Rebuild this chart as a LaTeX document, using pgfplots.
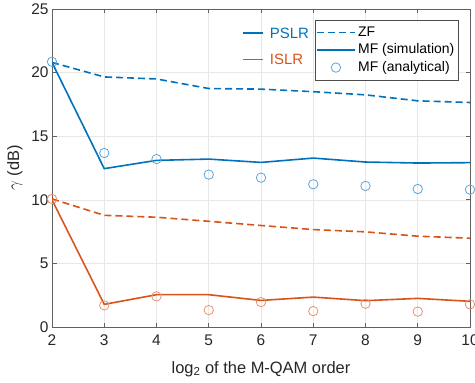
\documentclass[border=0pt]{standalone}
\usepackage{pgfplots}
\pgfplotsset{compat=1.18}
\usepackage{fontspec}
\setmainfont{Liberation Sans}
\definecolor{mblue}{RGB}{0,114,189}
\definecolor{morange}{RGB}{217,83,25}
\definecolor{cblue}{RGB}{90,165,220}
\definecolor{corange}{RGB}{232,145,110}
\pgfplotsset{
  lineleg/.style={legend image code/.code={\draw[line width=1.6bp, ##1] (0bp,0bp) -- (38bp,0bp);}},
  markleg/.style={legend image code/.code={\draw[##1] plot coordinates {(19bp,0bp)};}},
}
\begin{document}
\begin{tikzpicture}
\begin{axis}[
  name=ax,
  scale only axis, width=418bp, height=318bp,
  xmin=2, xmax=10, ymin=0, ymax=25,
  xtick={2,3,...,10}, ytick={0,5,...,25},
  grid=major, major grid style={color=black!9, line width=0.6bp},
  axis line style={color=black!62, line width=0.7bp},
  tick style={color=black!62, line width=0.7bp},
  tick align=inside, major tick length=4.5bp,
  ticklabel style={font=\fontsize{15.5}{17}\selectfont, text=black!85},
  xticklabel style={yshift=-4bp},
  /pgf/number format/assume math mode=true,
  xlabel={log\textsubscript{2} of the M-QAM order},
  ylabel={$\gamma$ (dB)},
  label style={font=\fontsize{16.5}{18}\selectfont, text=black!85},
  xlabel style={yshift=-9bp},
  ylabel style={yshift=2bp},
  legend style={at={(rel axis cs:0.629,0.965)}, anchor=north west,
    draw=black!70, fill=white,
    inner xsep=1bp, inner ysep=3.5bp, row sep=0bp,
    nodes={inner sep=2.5bp, text height=10bp, text depth=2.5bp, font=\fontsize{14}{15}\selectfont}},
  legend cell align=left,
  lineleg,
]
% PSLR
\addplot[mblue, line width=1.6bp, dash pattern=on 7bp off 4bp] coordinates {
 (2,20.8) (3,19.66) (4,19.5) (5,18.75) (6,18.7) (7,18.5) (8,18.25) (9,17.78) (10,17.65)};
\addlegendentry{ZF}
\addplot[mblue, line width=1.6bp] coordinates {
 (2,20.8) (3,12.45) (4,13.1) (5,13.2) (6,12.94) (7,13.28) (8,12.97) (9,12.89) (10,12.92)};
\addlegendentry{MF (simulation)\hspace{9bp}}
\addplot[cblue, only marks, mark=o, mark size=4.7bp, line width=0.8bp, markleg] coordinates {
 (2,20.85) (3,13.68) (4,13.2) (5,11.98) (6,11.74) (7,11.22) (8,11.09) (9,10.85) (10,10.8)};
\addlegendentry{MF (analytical)}
% ISLR
\addplot[morange, line width=1.6bp, dash pattern=on 7bp off 4bp, forget plot] coordinates {
 (2,10.07) (3,8.78) (4,8.63) (5,8.31) (6,7.98) (7,7.66) (8,7.48) (9,7.14) (10,6.98)};
\addplot[morange, line width=1.6bp, forget plot] coordinates {
 (2,10.0) (3,1.78) (4,2.54) (5,2.54) (6,2.09) (7,2.35) (8,2.07) (9,2.25) (10,2.02)};
\addplot[corange, only marks, mark=o, mark size=4.7bp, line width=0.8bp, forget plot] coordinates {
 (2,10.07) (3,1.7) (4,2.41) (5,1.33) (6,1.96) (7,1.25) (8,1.83) (9,1.21) (10,1.78)};
\end{axis}
\begin{axis}[
  scale only axis, width=418bp, height=318bp,
  xmin=2, xmax=10, ymin=0, ymax=25,
  hide axis,
  legend style={at={(rel axis cs:0.455,0.948)}, anchor=north west,
    draw=none, fill=none, inner sep=0bp, row sep=12bp, column sep=4bp,
    nodes={inner sep=2bp, text height=10.5bp, text depth=0bp, font=\fontsize{15}{16}\selectfont}},
  legend cell align=left,
  legend image code/.code={\draw[line width=1.6bp, #1] (0bp,0bp) -- (20bp,0bp);},
]
\addlegendimage{mblue}
\addlegendentry{\textcolor{mblue}{PSLR}}
\addlegendimage{morange}
\addlegendentry{\textcolor{morange}{ISLR}}
\end{axis}
\pgfresetboundingbox
\path ([shift={(-52bp,-55bp)}]ax.south west) rectangle ([shift={(5bp,9bp)}]ax.north east);
\end{tikzpicture}
\end{document}
